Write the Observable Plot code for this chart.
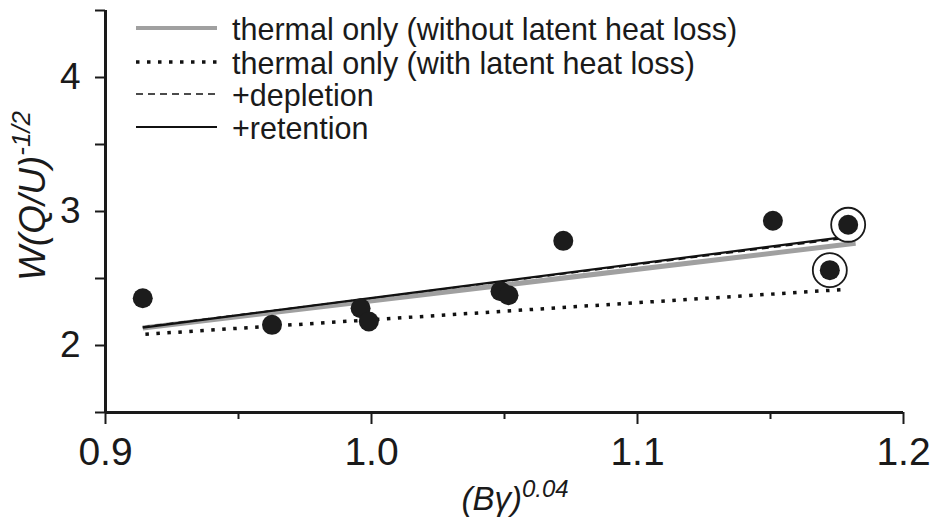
<!DOCTYPE html>
<html>
<head>
<meta charset="utf-8">
<script src="https://cdn.jsdelivr.net/npm/d3@7"></script>
<script src="https://cdn.jsdelivr.net/npm/@observablehq/plot@0.6"></script>
<style>
  html, body { margin: 0; padding: 0; background: #fff; }
  #chart svg { display: block; }
</style>
</head>
<body>
<div id="chart"></div>
<script>
// ---- data ----
const pointX = [0.914, 0.9626, 0.9959, 0.9990, 1.0485, 1.0515, 1.0721, 1.1509, 1.1792, 1.1723];
const pointY = [2.353, 2.154, 2.278, 2.179, 2.405, 2.375, 2.781, 2.931, 2.901, 2.562];
const circled = [false, false, false, false, false, false, false, false, true, true];

const seriesNames = [
  "thermal only (without latent heat loss)",
  "thermal only (with latent heat loss)",
  "+depletion",
  "+retention"
];
const seriesX0 = [0.914, 0.915, 0.914, 0.914];
const seriesX1 = [1.182, 1.179, 1.180, 1.179];
const seriesY0 = [2.130, 2.084, 2.138, 2.134];
const seriesY1 = [2.763, 2.420, 2.805, 2.813];

const xMajorTicks = [0.9, 1.0, 1.1, 1.2];
const xMinorTicks = [0.95, 1.05, 1.15];
const yMajorTicks = [2, 3, 4];
const yAllTicks = [1.5, 2, 2.5, 3, 3.5, 4, 4.5];

// ---- build tables ----
const points = pointX.map((x, i) => ({x, y: pointY[i], circled: circled[i]}));
const lines = [];
seriesNames.forEach((name, i) => {
  lines.push({series: name, x: seriesX0[i], y: seriesY0[i]});
  lines.push({series: name, x: seriesX1[i], y: seriesY1[i]});
});
const styles = [
  {stroke: "#a0a0a0", strokeWidth: 5, strokeDasharray: null},
  {stroke: "#111", strokeWidth: 3.5, strokeDasharray: "3.5,7.5"},
  {stroke: "#111", strokeWidth: 1.6, strokeDasharray: "7,5"},
  {stroke: "#111", strokeWidth: 2.2, strokeDasharray: null}
];

const font = "'Liberation Sans', Arial, Helvetica, sans-serif";

const lineMarks = seriesNames.map((name, i) =>
  Plot.line(lines.filter(d => d.series === name), {
    x: "x", y: "y",
    stroke: styles[i].stroke,
    strokeWidth: styles[i].strokeWidth,
    strokeDasharray: styles[i].strokeDasharray,
    strokeLinecap: "butt"
  })
);

const chart = Plot.plot({
  width: 930,
  height: 529,
  marginLeft: 105,
  marginRight: 27,
  marginTop: 10,
  marginBottom: 117,
  style: {fontFamily: font, color: "#1a1a1a", background: "#fff"},
  x: {domain: [0.9, 1.2]},
  y: {domain: [1.5, 4.5]},
  marks: [
    Plot.axisX({ticks: xMajorTicks, tickSize: 12, tickPadding: 13, tickFormat: d3.format(".1f"),
      fontSize: 39, strokeWidth: 2, label: null}),
    Plot.axisX({ticks: xMinorTicks, tickSize: 7, tickFormat: () => "", strokeWidth: 2, label: null}),
    Plot.axisY({ticks: yAllTicks, tickSize: 10, tickPadding: 15,
      tickFormat: d => yMajorTicks.includes(d) ? d3.format("d")(d) : "",
      fontSize: 37, strokeWidth: 2, label: null}),
    Plot.ruleX([0.9], {y1: 1.5, y2: 4.5, strokeWidth: 3, stroke: "#1a1a1a"}),
    Plot.ruleY([1.5], {x1: 0.9, x2: 1.2, strokeWidth: 3, stroke: "#1a1a1a"}),
    ...lineMarks,
    Plot.dot(points.filter(d => d.circled), {x: "x", y: "y", r: 17, stroke: "#1a1a1a", strokeWidth: 1.8, fill: "white"}),
    Plot.dot(points, {x: "x", y: "y", r: 10, fill: "#1c1c1c", stroke: "none"})
  ]
});

document.getElementById("chart").appendChild(chart);

// ---- legend and axis titles (layout in pixels) ----
const svg = d3.select(chart);
const legend = svg.append("g")
  .attr("font-family", font).attr("font-size", 30.5).attr("fill", "#1a1a1a")
  .attr("text-anchor", "start");
const rowY = [28, 62, 94, 127];
seriesNames.forEach((name, i) => {
  legend.append("line")
    .attr("x1", 136).attr("x2", 217)
    .attr("y1", rowY[i]).attr("y2", rowY[i])
    .attr("stroke", styles[i].stroke)
    .attr("stroke-width", i === 0 ? 4 : styles[i].strokeWidth)
    .attr("stroke-dasharray", styles[i].strokeDasharray);
  legend.append("text")
    .attr("x", 232).attr("y", rowY[i] + 1).attr("dy", "0.35em")
    .attr("text-anchor", "start")
    .text(name);
});

// x-axis title
const xt = svg.append("text")
  .attr("font-family", font).attr("font-size", 33).attr("font-style", "italic")
  .attr("fill", "#1a1a1a")
  .attr("x", 515).attr("y", 510).attr("text-anchor", "middle");
xt.append("tspan").text("(B\u03B3)");
xt.append("tspan").attr("font-size", 24).attr("dy", -13).text("0.04");

// y-axis title
const yt = svg.append("text")
  .attr("font-family", font).attr("font-size", 37).attr("font-style", "italic")
  .attr("fill", "#1a1a1a")
  .attr("transform", "translate(45,196) rotate(-90)")
  .attr("text-anchor", "middle");
yt.append("tspan").text("W(Q/U)");
yt.append("tspan").attr("font-size", 26).attr("dy", -15).text("-1/2");
</script>
</body>
</html>
